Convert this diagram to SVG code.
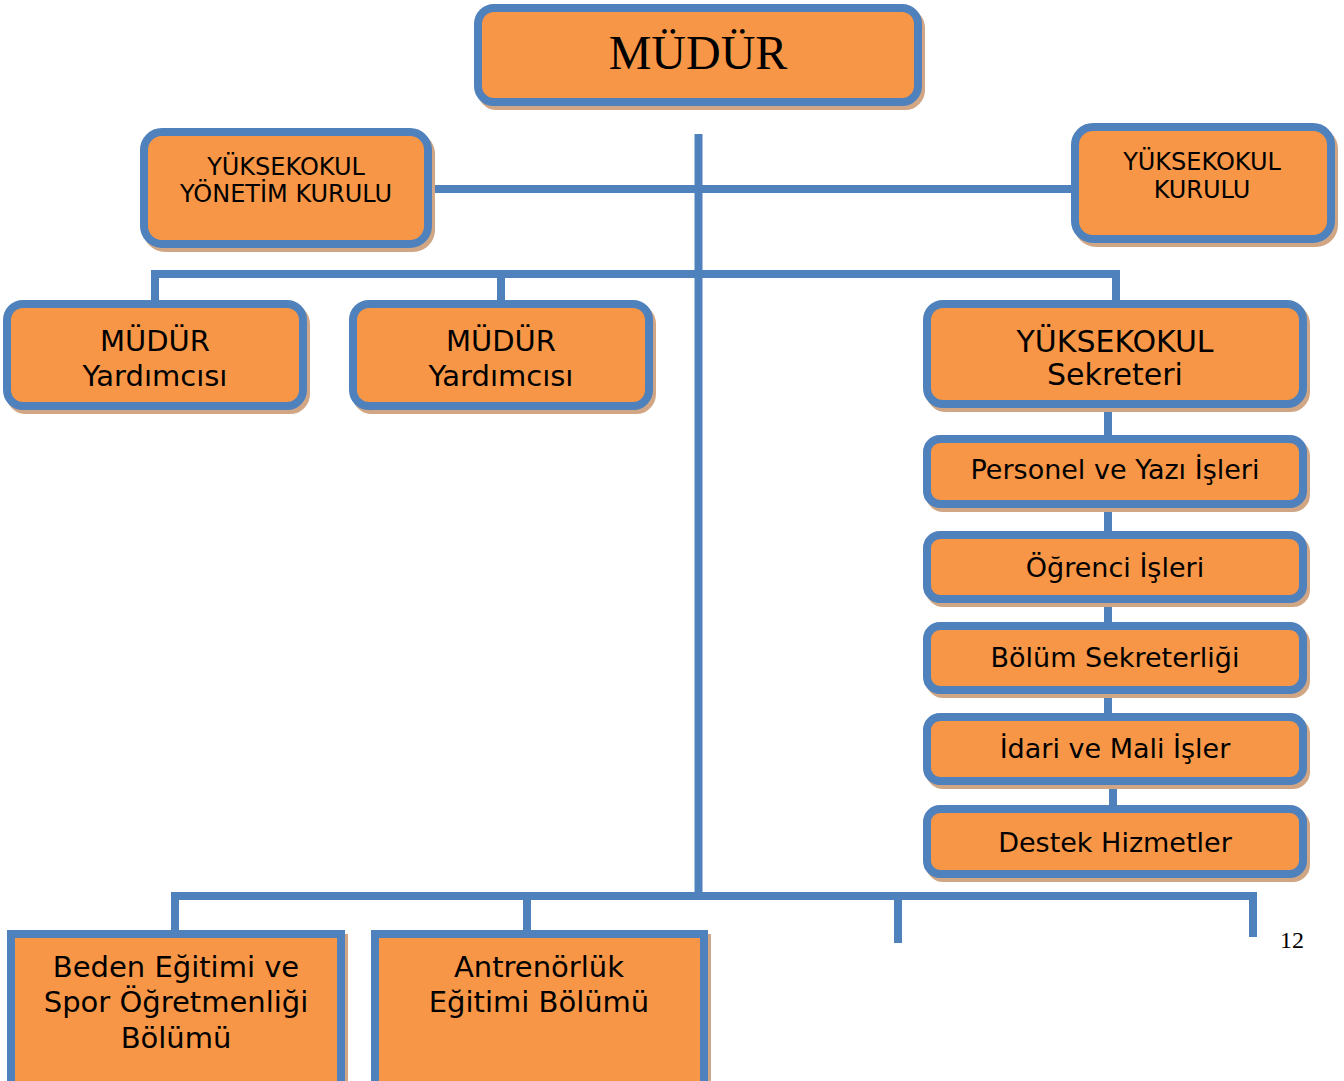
<svg xmlns="http://www.w3.org/2000/svg" width="1344" height="1081" viewBox="0 0 1344 1081">
<style>
.box{fill:#F79646;stroke:#4F81BD;stroke-width:8}
.sh{fill:none;stroke:#D0A684;stroke-width:8}
.ln{stroke:#4F81BD;stroke-width:8;fill:none}
.t{font-family:"DejaVu Sans",Verdana,sans-serif;fill:#000;text-anchor:middle}
</style>
<rect x="0" y="0" width="1344" height="1081" fill="#fff"/>
<g id="connectors">
<line class="ln" x1="698.5" y1="134" x2="698.5" y2="900"/>
<line class="ln" x1="430" y1="189" x2="1077" y2="189"/>
<polyline class="ln" points="155,304 155,274 1116,274 1116,304"/>
<line class="ln" x1="501" y1="274" x2="501" y2="304"/>
<line class="ln" x1="1108" y1="404" x2="1108" y2="439"/>
<line class="ln" x1="1108" y1="504" x2="1108" y2="535"/>
<line class="ln" x1="1108" y1="599" x2="1108" y2="626"/>
<line class="ln" x1="1108" y1="690" x2="1108" y2="717"/>
<line class="ln" x1="1113" y1="781" x2="1113" y2="809"/>
<polyline class="ln" points="175,934 175,896 1253,896 1253,937"/>
<line class="ln" x1="527" y1="896" x2="527" y2="934"/>
<line class="ln" x1="898" y1="896" x2="898" y2="943"/>
</g>
<g id="mudur">
<rect class="sh" x="481" y="12" width="440" height="94" rx="16"/>
<rect class="box" x="478" y="8" width="440" height="94" rx="16"/>
<text x="698" y="69" font-family="'Liberation Serif','Times New Roman',serif" font-size="48" text-anchor="middle">MÜDÜR</text>
</g>
<g id="yonetim-kurulu">
<rect class="sh" x="147" y="136" width="284" height="112" rx="18"/>
<rect class="box" x="144" y="132" width="284" height="112" rx="18"/>
<text class="t" x="286" y="175" font-size="24">YÜKSEKOKUL</text>
<text class="t" x="286" y="202" font-size="24">YÖNETİM KURULU</text>
</g>
<g id="yuksekokul-kurulu">
<rect class="sh" x="1078" y="131" width="256" height="112" rx="18"/>
<rect class="box" x="1075" y="127" width="256" height="112" rx="18"/>
<text class="t" x="1202" y="170" font-size="24">YÜKSEKOKUL</text>
<text class="t" x="1202" y="198" font-size="24">KURULU</text>
</g>
<g id="mudur-yard-1">
<rect class="sh" x="10" y="308" width="296" height="102" rx="16"/>
<rect class="box" x="7" y="304" width="296" height="102" rx="16"/>
<text class="t" x="155" y="351" font-size="29">MÜDÜR</text>
<text class="t" x="155" y="386" font-size="29">Yardımcısı</text>
</g>
<g id="mudur-yard-2">
<rect class="sh" x="356" y="308" width="296" height="102" rx="16"/>
<rect class="box" x="353" y="304" width="296" height="102" rx="16"/>
<text class="t" x="501" y="351" font-size="29">MÜDÜR</text>
<text class="t" x="501" y="386" font-size="29">Yardımcısı</text>
</g>
<g id="sekreter">
<rect class="sh" x="930" y="308" width="376" height="100" rx="16"/>
<rect class="box" x="927" y="304" width="376" height="100" rx="16"/>
<text class="t" x="1115" y="352" font-size="30">YÜKSEKOKUL</text>
<text class="t" x="1115" y="385" font-size="30">Sekreteri</text>
</g>
<g id="personel">
<rect class="sh" x="930" y="443" width="376" height="65" rx="13"/>
<rect class="box" x="927" y="439" width="376" height="65" rx="13"/>
<text class="t" x="1115" y="479" font-size="27">Personel ve Yazı İşleri</text>
</g>
<g id="ogrenci">
<rect class="sh" x="930" y="539" width="376" height="64" rx="13"/>
<rect class="box" x="927" y="535" width="376" height="64" rx="13"/>
<text class="t" x="1115" y="577" font-size="27">Öğrenci İşleri</text>
</g>
<g id="bolum-sekreterligi">
<rect class="sh" x="930" y="630" width="376" height="64" rx="13"/>
<rect class="box" x="927" y="626" width="376" height="64" rx="13"/>
<text class="t" x="1115" y="667" font-size="27">Bölüm Sekreterliği</text>
</g>
<g id="idari">
<rect class="sh" x="930" y="721" width="376" height="64" rx="13"/>
<rect class="box" x="927" y="717" width="376" height="64" rx="13"/>
<text class="t" x="1115" y="758" font-size="27">İdari ve Mali İşler</text>
</g>
<g id="destek">
<rect class="sh" x="930" y="813" width="376" height="65" rx="13"/>
<rect class="box" x="927" y="809" width="376" height="65" rx="13"/>
<text class="t" x="1115" y="852" font-size="27">Destek Hizmetler</text>
</g>
<g id="beden">
<rect class="sh" x="14" y="938" width="330" height="170"/>
<rect class="box" x="11" y="934" width="330" height="170"/>
<text class="t" x="176" y="977" font-size="29">Beden Eğitimi ve</text>
<text class="t" x="176" y="1012" font-size="29">Spor Öğretmenliği</text>
<text class="t" x="176" y="1048" font-size="29">Bölümü</text>
</g>
<g id="antrenorluk">
<rect class="sh" x="378" y="938" width="329" height="170"/>
<rect class="box" x="375" y="934" width="329" height="170"/>
<text class="t" x="539" y="977" font-size="29">Antrenörlük</text>
<text class="t" x="539" y="1012" font-size="29">Eğitimi Bölümü</text>
</g>
<text x="1292" y="948" font-family="'Liberation Serif','Times New Roman',serif" font-size="24" text-anchor="middle">12</text>
</svg>
